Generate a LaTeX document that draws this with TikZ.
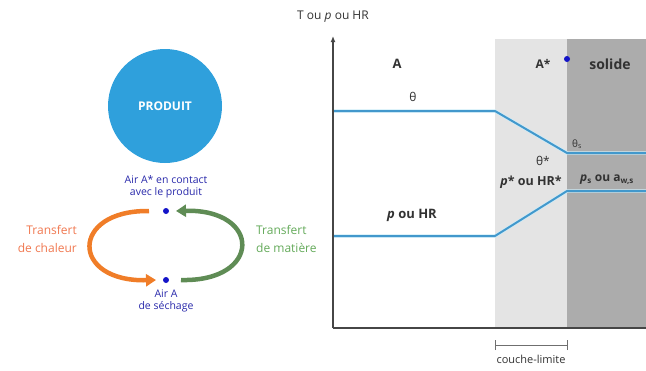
\documentclass[tikz,border=0pt]{standalone}
\usepackage{fontspec}
\setmainfont{Open Sans}
\usetikzlibrary{arrows.meta}
\definecolor{prodblue}{RGB}{47,160,220}
\definecolor{curve}{RGB}{66,152,204}
\definecolor{curveglow}{RGB}{205,236,248}
\definecolor{dotblue}{RGB}{20,20,200}
\definecolor{txtblue}{RGB}{40,40,170}
\definecolor{heatorange}{RGB}{240,125,40}
\definecolor{massgreen}{RGB}{95,140,85}
\definecolor{heattxt}{RGB}{240,120,80}
\definecolor{masstxt}{RGB}{100,170,90}
\definecolor{lightzone}{RGB}{228,228,228}
\definecolor{darkzone}{RGB}{172,172,172}
\definecolor{axisgray}{RGB}{70,70,70}
\definecolor{labelgray}{RGB}{50,50,50}
\tikzset{
  airtxt/.style={text=txtblue,font=\fontsize{10.5}{12.5}\selectfont,align=center,inner sep=0pt},
  airdot/.style={circle,fill=dotblue,minimum size=6pt,inner sep=0pt},
  transfer/.style={line width=4.5pt,-{Triangle[length=10pt,width=12pt]}},
  transtxt/.style={font=\fontsize{12}{18}\selectfont,inner sep=0pt},
  axisline/.style={draw=axisgray,line width=2pt},
  profile/.style={draw=curve,line width=2pt,line join=round},
  glow/.style={draw=curveglow,line width=3.4pt,line join=round},
  graphlbl/.style={text=labelgray,font=\fontsize{12}{13}\selectfont\bfseries,inner sep=0pt},
  graphsym/.style={text=labelgray,font=\fontsize{12}{13}\selectfont,inner sep=0pt}
}
\begin{document}
\begin{tikzpicture}[x=1pt,y=-1pt]
\useasboundingbox (0,0) rectangle (646,370);

% --- product and the two air states ---
\node[circle,fill=prodblue,minimum size=114pt,inner sep=0pt,
      text=white,font=\fontsize{12}{13}\selectfont\bfseries] (prod) at (165,106) {PRODUIT};
\node[airtxt] (contact) at (166,187) {Air A* en contact\\avec le produit};
\node[airdot] (dtop) at (166,211) {};
\node[airdot] (dbot) at (166,280) {};
\node[airtxt] (sechage) at (166,301) {Air A\\de séchage};

% --- heat and mass transfer loops ---
\draw[transfer,heatorange] ([xshift=-17pt]dtop.center) .. controls (70,210) and (70,282) .. ([xshift=-10pt]dbot.center);
\draw[transfer,massgreen] ([xshift=15pt]dbot.center) .. controls (262,282) and (262,209) .. ([xshift=10pt]dtop.center);
\node[transtxt,text=heattxt,align=right,anchor=east] (heat) at (77,239) {Transfert\\de chaleur};
\node[transtxt,text=masstxt,align=left,anchor=west] (mass) at (256,239) {Transfert\\de matière};

% --- profile graph ---
\coordinate (O) at (333,328);
\coordinate (ytop) at (333,36);
\coordinate (xend) at (646,328);
\fill[lightzone] (495,39) rectangle (646,328);
\fill[darkzone] (567,39) rectangle (646,328);

\coordinate (t0) at (333,111);
\coordinate (t1) at (495,111);
\coordinate (t2) at (567,153);
\coordinate (t3) at (646,153);
\coordinate (p0) at (333,236);
\coordinate (p1) at (495,236);
\coordinate (p2) at (567,191);
\coordinate (p3) at (646,191);
\draw[glow] (t0) -- (t1) -- (t2) -- (t3);
\draw[glow] (p0) -- (p1) -- (p2) -- (p3);
\draw[profile] (t0) -- (t1) -- (t2) -- (t3);
\draw[profile] (p0) -- (p1) -- (p2) -- (p3);

\draw[axisline,-{Latex[length=6pt,width=5pt]}] (O) -- (ytop);
\draw[axisline] (O) -- (xend);
\node[text=labelgray,font=\fontsize{12}{13}\selectfont,inner sep=0pt] (ylab) at (333,17) {T ou \textit{p} ou HR};

\node[graphlbl,font=\fontsize{13}{14}\selectfont\bfseries] (zoneA) at (397,64) {A};
\node[graphlbl] (zoneAs) at (543,64) {A*};
\node[airdot] (dsurf) at (567,59) {};
\node[graphlbl,font=\fontsize{14}{15}\selectfont\bfseries] (zoneS) at (610,64) {solide};
\node[graphsym] (theta) at (413,97) {θ};
\node[graphsym,font=\fontsize{10}{11}\selectfont] (thetas) at (577,144) {θ\textsubscript{s}};
\node[graphsym] (thetastar) at (543,161) {θ*};
\node[graphlbl,font=\fontsize{12.5}{13.5}\selectfont\bfseries] (pstar) at (531,182) {\textit{p}* ou HR*};
\node[graphlbl] (ps) at (607,180) {\textit{p}\textsubscript{s} ou a\textsubscript{w,s}};
\node[graphlbl,font=\fontsize{13}{14}\selectfont\bfseries] (p) at (412,215) {\textit{p} ou HR};

% --- boundary layer marker ---
\coordinate (bl) at (495,345);
\coordinate (br) at (567,345);
\draw[labelgray!70,line width=0.6pt] (bl) -- (br);
\draw[labelgray!70,line width=0.6pt] ([yshift=-5pt]bl) -- ([yshift=5pt]bl);
\draw[labelgray!70,line width=0.6pt] ([yshift=-5pt]br) -- ([yshift=5pt]br);
\node[text=labelgray,font=\fontsize{11}{12}\selectfont,inner sep=0pt] (couche) at (531,359) {couche-limite};
\end{tikzpicture}
\end{document}
